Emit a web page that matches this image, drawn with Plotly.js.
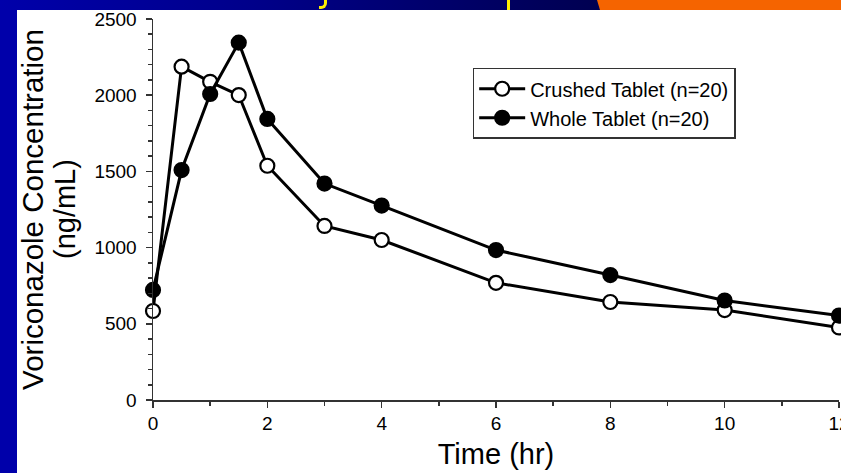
<!DOCTYPE html>
<html>
<head>
<meta charset="utf-8">
<script src="https://cdn.plot.ly/plotly-3.0.1.min.js"></script>
<style>
  html, body { margin: 0; padding: 0; background: #fff; }
  #wrap { position: relative; width: 841px; height: 473px; overflow: hidden; }
  #chart { position: absolute; left: 0; top: 0; width: 841px; height: 473px; }
  .band { position: absolute; z-index: 10; }
</style>
</head>
<body>
<div id="wrap">
  <div id="chart"></div>
  <div class="band" style="left:0;top:0;width:17px;height:473px;background:#0000aa;"></div>
  <div class="band" style="left:0;top:0;width:841px;height:10px;background:linear-gradient(90deg,#0000aa 0%,#00008a 30%,#000060 60%,#000050 72%);"></div>
  <div class="band" style="left:597px;top:0;width:244px;height:10px;background:#f56400;clip-path:polygon(0 0,100% 0,100% 100%,3px 100%);"></div>
  <div class="band" style="left:319px;top:0;width:8px;height:9px;border-right:3px solid #ffee00;border-bottom:3px solid #ffee00;border-radius:0 0 6px 0;box-sizing:border-box;"></div>
  <div class="band" style="left:507px;top:0;width:3px;height:10px;background:#ffee00;"></div>
</div>
<script>
const timeHr = [0, 0.5, 1, 1.5, 2, 3, 4, 6, 8, 10, 12];
const crushedName = "Crushed Tablet (n=20)";
const wholeName = "Whole Tablet (n=20)";
const crushedConc = [584, 2187, 2088, 2001, 1537, 1142, 1050, 769, 643, 590, 476];
const wholeConc = [722, 1509, 2008, 2345, 1844, 1420, 1276, 984, 820, 653, 554];
const yTitleLine1 = "Voriconazole Concentration";
const yTitleLine2 = "(ng/mL)";
const xTitle = "Time (hr)";

const font = "Liberation Sans, Arial, Helvetica, sans-serif";

const traces = [
  {
    x: timeHr, y: crushedConc, name: crushedName, type: "scatter", mode: "lines+markers",
    line: {color: "#000", width: 3},
    marker: {symbol: "circle", size: 14, color: "#fff", line: {color: "#000", width: 2.2}},
    cliponaxis: false
  },
  {
    x: timeHr, y: wholeConc, name: wholeName, type: "scatter", mode: "lines+markers",
    line: {color: "#000", width: 3},
    marker: {symbol: "circle", size: 14, color: "#000", line: {color: "#000", width: 2.2}},
    cliponaxis: false
  }
];

const layout = {
  width: 841, height: 473,
  margin: {l: 153, r: 2, t: 19, b: 73},
  paper_bgcolor: "#fff", plot_bgcolor: "#fff",
  font: {family: font, color: "#000", size: 19},
  showlegend: true,
  legend: {
    x: 0.466, y: 0.872, xanchor: "left", yanchor: "top",
    bgcolor: "#fff", bordercolor: "#333", borderwidth: 1.5,
    font: {family: font, size: 20, color: "#000"},
    itemwidth: 46,
    traceorder: "normal", tracegroupgap: 0
  },
  xaxis: {
    range: [0, 12], dtick: 2, tick0: 0,
    showgrid: false, zeroline: false,
    showline: true, linecolor: "#333", linewidth: 1.5,
    ticks: "outside", ticklen: 6, tickwidth: 1.5, tickcolor: "#333",
    minor: {dtick: 1, ticks: "outside", ticklen: 4, tickcolor: "#333", tickwidth: 1.5},
    tickfont: {family: font, size: 19, color: "#000"},
    ticklabeloverflow: "allow",
    title: {text: xTitle, font: {family: font, size: 29, color: "#000"}, standoff: 10},
    automargin: false
  },
  yaxis: {
    range: [0, 2500], dtick: 500, tick0: 0,
    showgrid: false, zeroline: false,
    showline: true, linecolor: "#333", linewidth: 1.5,
    ticks: "outside", ticklen: 6, tickwidth: 1.5, tickcolor: "#333",
    minor: {dtick: 100, ticks: "outside", ticklen: 4, tickcolor: "#333", tickwidth: 1.5},
    tickfont: {family: font, size: 19, color: "#000"},
    ticklabelstandoff: 5,
    ticklabeloverflow: "allow",
    title: {text: yTitleLine1, font: {family: font, size: 29.5, color: "#000"}, standoff: 42},
    automargin: false
  },
  annotations: [
    {
      text: yTitleLine2, xref: "paper", yref: "paper", x: -0.129, y: 0.5,
      xanchor: "center", yanchor: "middle", textangle: -90, showarrow: false,
      font: {family: font, size: 29, color: "#000"}
    }
  ]
};

Plotly.newPlot("chart", traces, layout, {displayModeBar: false, staticPlot: true});
</script>
</body>
</html>
